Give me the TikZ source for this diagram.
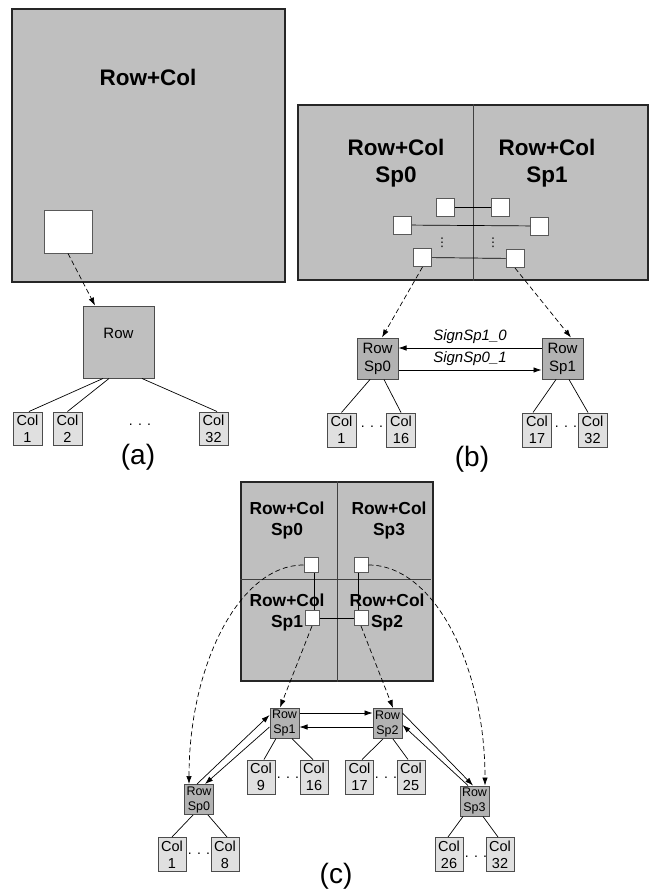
\documentclass[tikz,border=0pt]{standalone}
\usepackage{fontspec}
\setmainfont{Liberation Sans}
\newfontfamily\symfont{DejaVu Sans}
\usetikzlibrary{arrows.meta,positioning,calc}

\begin{document}
\begin{tikzpicture}[
    x=1pt, y=-1pt,
    bigbox/.style={rectangle, draw=black!85, line width=1.3pt, fill=black!25, inner sep=0pt},
    divider/.style={draw=black!75, line width=1pt},
    biglabel/.style={align=center, font=\fontsize{22.5}{27}\selectfont\bfseries},
    smalllabel/.style={align=center, font=\fontsize{17.4}{21}\selectfont\bfseries},
    port/.style={rectangle, draw=black!65, line width=1pt, fill=white, inner sep=0pt},
    rowbox/.style={rectangle, draw=black!70, line width=1pt, fill=black!30, inner sep=0pt, align=center, font=\fontsize{15}{18}\selectfont},
    tinyrow/.style={rowbox, font=\fontsize{12.5}{15}\selectfont},
    colbox/.style={rectangle, draw=black!70, line width=1pt, fill=black!12, inner sep=0pt, align=center, font=\fontsize{14.5}{17}\selectfont},
    gap/.style={font=\fontsize{14}{14}\selectfont, inner sep=0pt},
    vgap/.style={font=\symfont\fontsize{12}{12}\selectfont, inner sep=0pt},
    caption/.style={font=\fontsize{28}{30}\selectfont},
    sign/.style={font=\fontsize{15}{18}\selectfont\itshape, inner sep=4pt},
    link/.style={line width=0.7pt},
    arrow/.style={-{Latex[length=8pt,width=5.5pt]}, line width=0.7pt},
    darrow/.style={arrow, dash pattern=on 5pt off 3pt}
]
\useasboundingbox (0,0) rectangle (649,891);

% (a)
\node[bigbox, minimum width=273pt, minimum height=273pt] (bigA) at (148.5,145.5) {};
\node[biglabel] (lblA) at (148,77) {Row+Col};
\node[port, minimum width=48pt, minimum height=43pt] (portA) at (68,231.5) {};
\node[rowbox, fill=black!25, minimum width=71pt, minimum height=72pt] (rowA) at (118.5,342) {};
\node[font=\fontsize{15}{18}\selectfont] (rowAtxt) at ([yshift=9pt]rowA.center) {Row};
\node[colbox, minimum width=29pt, minimum height=33pt] (colA1) at (27.5,428.5) {Col\\1};
\node[colbox, minimum width=29pt, minimum height=33pt] (colA2) at (67.5,428.5) {Col\\2};
\node[colbox, minimum width=29pt, minimum height=33pt] (colA32) at (213.5,428.5) {Col\\32};
\node[gap] (dotsA) at (140,425) {. . .};
\node[caption] (capA) at (138,457) {(a)};

\draw[darrow] (portA.south) -- ([xshift=-23.5pt]rowA.north);
\draw[link] ([xshift=-15.5pt]rowA.south) -- ([xshift=1.5pt]colA1.north);
\draw[link] ([xshift=-9.5pt]rowA.south) -- (colA2.north);
\draw[link] ([xshift=23.5pt]rowA.south) -- ([xshift=3.5pt]colA32.north);

% (b)
\node[bigbox, minimum width=350pt, minimum height=175pt] (bigB) at (473,192.5) {};
\draw[divider] (bigB.north) -- (bigB.south);
\node[biglabel] (lblB0) at (396,163.5) {Row+Col\\Sp0};
\node[biglabel] (lblB1) at (547,163.5) {Row+Col\\Sp1};
\node[port, minimum size=18pt] (pB1) at (445,207.5) {};
\node[port, minimum size=18pt] (pB2) at (500,207.5) {};
\node[port, minimum size=18pt] (pB3) at (402.5,225) {};
\node[port, minimum size=18pt] (pB4) at (539.5,226) {};
\node[port, minimum size=18pt] (pB5) at (422.5,257.5) {};
\node[port, minimum size=18pt] (pB6) at (515,258.5) {};
\node[vgap] (vdotsB0) at (442,242.5) {⋮};
\node[vgap] (vdotsB1) at (493,242.5) {⋮};
\draw[link] (pB1) -- (pB2);
\draw[link] (pB3) -- (pB4);
\draw[link] (pB5) -- (pB6);

\node[rowbox, minimum size=41pt] (rowB0) at (377.5,358.5) {Row\\Sp0};
\node[rowbox, minimum size=41pt] (rowB1) at (562.5,358.5) {Row\\Sp1};
\draw[darrow] (pB5.south) -- ([xshift=4.5pt]rowB0.north);
\draw[darrow] (pB6.south) -- ([xshift=8.5pt]rowB1.north);
\draw[arrow] ([yshift=10.5pt]rowB1.west) -- node[above, sign] {SignSp1\_0} ([yshift=10.5pt]rowB0.east);
\draw[arrow] ([yshift=-11.5pt]rowB0.east) -- node[above, sign] {SignSp0\_1} ([yshift=-11.5pt]rowB1.west);

\node[colbox, minimum width=29pt, minimum height=34pt] (colB1) at (341.5,430) {Col\\1};
\node[colbox, minimum width=29pt, minimum height=34pt] (colB16) at (401,430) {Col\\16};
\node[colbox, minimum width=29pt, minimum height=34pt] (colB17) at (537,430) {Col\\17};
\node[colbox, minimum width=29pt, minimum height=34pt] (colB32) at (592.5,430) {Col\\32};
\node[gap] (dotsB0) at (372,427) {. . .};
\node[gap] (dotsB1) at (566,427) {. . .};
\draw[link] ([xshift=-7.5pt]rowB0.south) -- (colB1.north);
\draw[link] ([xshift=6.5pt]rowB0.south) -- (colB16.north);
\draw[link] ([xshift=-6.5pt]rowB1.south) -- ([xshift=-4pt]colB17.north);
\draw[link] ([xshift=6.5pt]rowB1.south) -- ([xshift=-4.5pt]colB32.north);
\node[caption] (capB) at (472,459) {(b)};

% (c)
\node[bigbox, minimum width=192pt, minimum height=199pt] (bigC) at (337,581.5) {};
\draw[divider] (bigC.north) -- (bigC.south);
\draw[divider] ([yshift=2.5pt]bigC.west) -- ([yshift=2.5pt,xshift=-3pt]bigC.east);
\node[smalllabel] (lblC0) at (287,520.5) {Row+Col\\Sp0};
\node[smalllabel] (lblC3) at (389,520.5) {Row+Col\\Sp3};
\node[smalllabel] (lblC1) at (287,612.5) {Row+Col\\Sp1};
\node[smalllabel] (lblC2) at (387,612.5) {Row+Col\\Sp2};
\node[port, minimum width=14pt, minimum height=15pt] (pC0) at (311,565) {};
\node[port, minimum width=14pt, minimum height=15pt] (pC3) at (361,565) {};
\node[port, minimum width=14pt, minimum height=15pt] (pC1) at (312,618) {};
\node[port, minimum width=14pt, minimum height=15pt] (pC2) at (361,618) {};
\draw[link] ([xshift=3pt]pC0.south) -- ([xshift=2pt]pC1.north);
\draw[link] ([xshift=-3pt]pC3.south) -- ([xshift=-3pt]pC2.north);
\draw[link] (pC1) -- (pC2);

\node[tinyrow, minimum width=29pt, minimum height=30pt] (rowC1) at (284.5,723) {Row\\Sp1};
\node[tinyrow, minimum width=29pt, minimum height=30pt] (rowC2) at (387.5,723.5) {Row\\Sp2};
\node[tinyrow, minimum width=29pt, minimum height=30pt] (rowC0) at (199,799.5) {Row\\Sp0};
\node[tinyrow, minimum width=29pt, minimum height=30pt] (rowC3) at (474.5,801) {Row\\Sp3};

\draw[darrow] (pC1.south) -- ([xshift=-4.5pt]rowC1.north);
\draw[darrow] (pC2.south) -- ([xshift=5.5pt]rowC2.north);
\draw[darrow] (pC0.west) .. controls +(-64,0) and +(0,-119) .. ([xshift=-10pt]rowC0.north);
\draw[darrow] (pC3.east) .. controls +(66,0) and +(0,-119) .. ([xshift=10.5pt]rowC3.north);

\draw[arrow] ([xshift=-2pt]rowC0.north) -- ([yshift=8pt]rowC1.west);
\draw[arrow] ([yshift=-4pt]rowC1.west) -- ([xshift=6pt]rowC0.north);
\draw[arrow] ([yshift=10pt]rowC1.east) -- ([yshift=10.5pt]rowC2.west);
\draw[arrow] ([yshift=-3.5pt]rowC2.west) -- ([yshift=-4pt]rowC1.east);
\draw[arrow] ([yshift=10.5pt]rowC2.east) -- ([xshift=-1.5pt]rowC3.north);
\draw[arrow] ([xshift=-6.5pt]rowC3.north) -- ([yshift=-1.5pt]rowC2.east);

\node[colbox, minimum width=28pt, minimum height=34pt] (colC1) at (172,854.5) {Col\\1};
\node[colbox, minimum width=28pt, minimum height=34pt] (colC8) at (225,854.5) {Col\\8};
\node[colbox, minimum width=28pt, minimum height=34pt] (colC9) at (261,777) {Col\\9};
\node[colbox, minimum width=28pt, minimum height=34pt] (colC16) at (314,777) {Col\\16};
\node[colbox, minimum width=28pt, minimum height=34pt] (colC17) at (359.5,777) {Col\\17};
\node[colbox, minimum width=28pt, minimum height=34pt] (colC25) at (411,777) {Col\\25};
\node[colbox, minimum width=28pt, minimum height=34pt] (colC26) at (449,854.5) {Col\\26};
\node[colbox, minimum width=28pt, minimum height=34pt] (colC32) at (500,854.5) {Col\\32};
\node[gap] (dotsC0) at (199,854) {. . .};
\node[gap] (dotsC1) at (288,778) {. . .};
\node[gap] (dotsC2) at (386,778) {. . .};
\node[gap] (dotsC3) at (476,857) {. . .};

\draw[link] ([xshift=-6pt]rowC0.south) -- (colC1.north);
\draw[link] ([xshift=9pt]rowC0.south) -- ([xshift=2pt]colC8.north);
\draw[link] ([xshift=-8.5pt]rowC1.south) -- ([xshift=3pt]colC9.north);
\draw[link] ([xshift=7.5pt]rowC1.south) -- ([xshift=-1pt]colC16.north);
\draw[link] ([xshift=-4.5pt]rowC2.south) -- ([xshift=2.5pt]colC17.north);
\draw[link] ([xshift=5.5pt]rowC2.south) -- ([xshift=-3pt]colC25.north);
\draw[link] ([xshift=-11.5pt]rowC3.south) -- ([xshift=-1pt]colC26.north);
\draw[link] ([xshift=8.5pt]rowC3.south) -- ([xshift=-2pt]colC32.north);
\node[caption] (capC) at (336,876) {(c)};

\end{tikzpicture}
\end{document}
